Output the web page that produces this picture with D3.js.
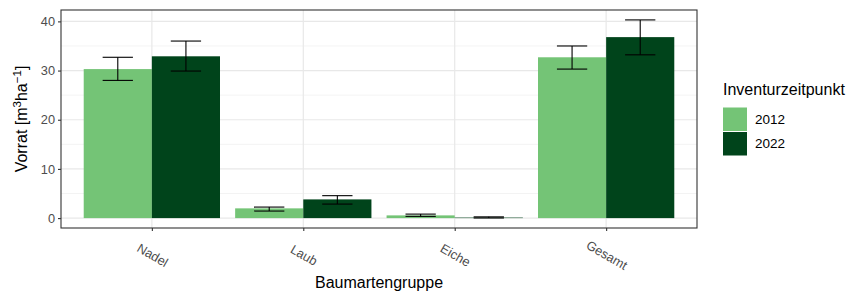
<!DOCTYPE html>
<html>
  <head>
    <meta charset="utf-8">
    <title>Vorrat nach Baumartengruppe</title>
    <script src="https://d3js.org/d3.v7.min.js"></script>
    <style>
      body { margin: 0; background: #fff; }
      svg { font-family: 'Liberation Sans', Arial, sans-serif; }
      .tick text { fill: #4d4d4d; font-size: 12.8px; }
      .tick line { stroke: #333; }
      .domain { display: none; }
    </style>
  </head>
  <body>
    <div id="chart"></div>
    <script>

    // data
    var groups = ["Nadel", "Laub", "Eiche", "Gesamt"];
    var years = ["2012", "2022"];
    var vorrat2012 = [30.3, 1.98, 0.55, 32.7];
    var lower2012  = [28.0, 1.43, 0.35, 30.3];
    var upper2012  = [32.7, 2.24, 0.81, 35.0];
    var vorrat2022 = [32.9, 3.8, 0.1, 36.8];
    var lower2022  = [29.9, 2.85, 0.02, 33.2];
    var upper2022  = [36.0, 4.56, 0.25, 40.3];
    var yTicks = [0, 10, 20, 30, 40];
    var yMinor = [5, 15, 25, 35];

    var rows = [];
    groups.forEach((g, i) => {
        rows.push({group: g, year: "2012", value: vorrat2012[i], lo: lower2012[i], hi: upper2012[i]});
        rows.push({group: g, year: "2022", value: vorrat2022[i], lo: lower2022[i], hi: upper2022[i]});
    });

    //begin: layout
    var width = 849, height = 293;
    var panel = {left: 61, right: 697, top: 10, bottom: 228};

    var svg = d3.select("#chart").append("svg")
        .attr("width", width).attr("height", height);

    var color = d3.scaleOrdinal().domain(years).range(["#74c476", "#00441b"]);

    // ggplot style expansion
    var yMax = d3.max(rows, d => d.hi);
    var yScale = d3.scaleLinear()
        .domain([-0.05 * yMax, yMax * 1.05])
        .range([panel.bottom, panel.top]);

    // discrete x: 0.6 units padding each side
    var xScale = d3.scalePoint().domain(groups)
        .range([panel.left, panel.right])
        .padding(0.6);
    var step = xScale.step();
    var xYear = d3.scaleBand().domain(years).range([-0.45 * step, 0.45 * step]);

    // grid
    var grid = svg.append("g");
    grid.selectAll("line.minor").data(yMinor).enter().append("line")
        .attr("x1", panel.left).attr("x2", panel.right)
        .attr("y1", d => yScale(d)).attr("y2", d => yScale(d))
        .attr("stroke", "#ebebeb").attr("stroke-width", 0.6);
    grid.selectAll("line.major").data(yTicks).enter().append("line")
        .attr("x1", panel.left).attr("x2", panel.right)
        .attr("y1", d => yScale(d)).attr("y2", d => yScale(d))
        .attr("stroke", "#e8e8e8").attr("stroke-width", 1.2);
    grid.selectAll("line.vmajor").data(groups).enter().append("line")
        .attr("x1", d => xScale(d)).attr("x2", d => xScale(d))
        .attr("y1", panel.top).attr("y2", panel.bottom)
        .attr("stroke", "#e8e8e8").attr("stroke-width", 1.2);

    // bars
    svg.append("g").selectAll("rect.bar").data(rows).enter().append("rect")
        .attr("x", d => xScale(d.group) + xYear(d.year))
        .attr("width", xYear.bandwidth())
        .attr("y", d => yScale(d.value))
        .attr("height", d => yScale(0) - yScale(d.value))
        .attr("fill", d => color(d.year));

    // error bars
    var capHalf = 0.1 * step;
    var eb = svg.append("g").selectAll("g.err").data(rows).enter().append("g")
        .attr("transform", d => `translate(${xScale(d.group) + xYear(d.year) + xYear.bandwidth() / 2},0)`)
        .attr("stroke", "#000").attr("stroke-width", 1.1);
    eb.append("line").attr("x1", 0).attr("x2", 0)
        .attr("y1", d => yScale(d.lo)).attr("y2", d => yScale(d.hi));
    eb.append("line").attr("x1", -capHalf).attr("x2", capHalf)
        .attr("y1", d => yScale(d.lo)).attr("y2", d => yScale(d.lo));
    eb.append("line").attr("x1", -capHalf).attr("x2", capHalf)
        .attr("y1", d => yScale(d.hi)).attr("y2", d => yScale(d.hi));

    // border
    svg.append("rect")
        .attr("x", panel.left).attr("y", panel.top)
        .attr("width", panel.right - panel.left).attr("height", panel.bottom - panel.top)
        .attr("fill", "none").attr("stroke", "#333").attr("stroke-width", 1.1);

    // axes
    svg.append("g").attr("class", "y-axis")
        .attr("transform", `translate(${panel.left},0)`)
        .call(d3.axisLeft(yScale).tickValues(yTicks).tickSize(3).tickPadding(3));

    var xAxis = svg.append("g").attr("class", "x-axis")
        .attr("transform", `translate(0,${panel.bottom})`)
        .call(d3.axisBottom(xScale).tickSize(3).tickPadding(3));
    xAxis.selectAll(".tick text")
        .attr("text-anchor", "middle")
        .attr("y", 0).attr("dy", 0)
        .attr("transform", "translate(-2,31) rotate(30)");

    svg.selectAll(".tick line").attr("stroke-width", 1.1);

    // titles
    svg.append("text")
        .attr("x", (panel.left + panel.right) / 2).attr("y", 288)
        .attr("text-anchor", "middle")
        .style("font-size", "16px")
        .text("Baumartengruppe");

    var yt = svg.append("text")
        .attr("transform", `translate(27,${(panel.top + panel.bottom) / 2}) rotate(-90)`)
        .attr("text-anchor", "middle")
        .style("font-size", "16px");
    yt.append("tspan").text("Vorrat [m");
    yt.append("tspan").attr("dy", -6).style("font-size", "11.5px").text("3");
    yt.append("tspan").attr("dy", 6).text("ha");
    yt.append("tspan").attr("dy", -6).style("font-size", "11.5px").text("\u22121");
    yt.append("tspan").attr("dy", 6).text("]");

    // legend
    var legend = svg.append("g").attr("transform", "translate(723,0)");
    legend.append("text").attr("x", 0).attr("y", 95)
        .style("font-size", "16px").text("Inventurzeitpunkt");
    legend.selectAll("rect.key").data(years).enter().append("rect")
        .attr("x", 0).attr("y", (d, i) => 107.5 + i * 24.5)
        .attr("width", 24).attr("height", 23.5)
        .attr("fill", d => color(d));
    legend.selectAll("text.key").data(years).enter().append("text")
        .attr("x", 32).attr("y", (d, i) => 123.5 + i * 24.5)
        .style("font-size", "13.5px").text(d => d);

    </script>
  </body>
</html>
